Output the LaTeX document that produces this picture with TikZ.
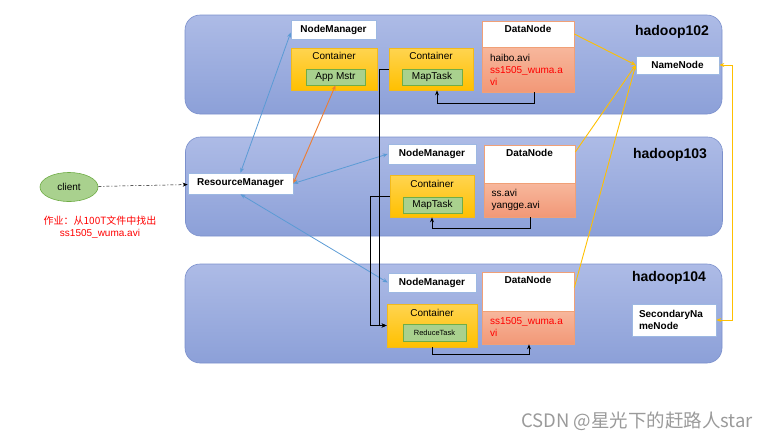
\documentclass[tikz,border=0pt]{standalone}
\usepackage{fontspec}
\setmainfont{Liberation Sans}
\newfontfamily\cjk{Noto Sans CJK SC}
\usetikzlibrary{arrows.meta, positioning, shapes.geometric}
\definecolor{chostA}{HTML}{ADBBE6}
\definecolor{chostB}{HTML}{8CA0D8}
\definecolor{chostline}{HTML}{7B90CC}
\definecolor{cboxline}{HTML}{9DB8E2}
\definecolor{cgoldA}{HTML}{FFD450}
\definecolor{cgoldB}{HTML}{FFC000}
\definecolor{cgoldline}{HTML}{F2BA1C}
\definecolor{cgreen}{HTML}{A9D18E}
\definecolor{cgreenline}{HTML}{70AD47}
\definecolor{csalmonA}{HTML}{F7B79C}
\definecolor{csalmonB}{HTML}{F29877}
\definecolor{csalmonline}{HTML}{F0A077}
\definecolor{cred}{HTML}{FF0000}
\definecolor{cblue}{HTML}{5B9BD5}
\definecolor{corange}{HTML}{ED7D31}
\definecolor{cyellow}{HTML}{FFC000}
\definecolor{cmark}{HTML}{9A9A9A}
\newcommand{\fsz}{\fontsize{10}{12}\selectfont}

\begin{document}
\begin{tikzpicture}[
  x=1pt, y=-1pt, font=\fsz,
  host/.style={draw=chostline, top color=chostA, bottom color=chostB, line width=0.6pt,
               rounded corners=15pt, minimum width=537pt, minimum height=99pt, inner sep=0pt},
  hostlbl/.style={font=\fontsize{14}{16}\selectfont\bfseries, inner sep=0pt},
  wbox/.style={draw=cboxline, fill=white, line width=0.6pt, inner sep=0pt,
               font=\fsz\bfseries},
  cont/.style={draw=cgoldline, top color=cgoldA, bottom color=cgoldB, line width=0.6pt,
               inner sep=0pt},
  contlbl/.style={inner sep=1pt},
  task/.style={draw=cgreenline, fill=cgreen, line width=0.6pt, inner sep=0pt},
  dnhead/.style={draw=csalmonline, fill=white, line width=0.6pt, minimum width=92pt,
                 inner sep=0pt},
  dntitle/.style={font=\fsz\bfseries, inner sep=1pt},
  dnfile/.style={draw=csalmonline, top color=csalmonA, bottom color=csalmonB,
                 line width=0.6pt, minimum width=92pt, inner sep=0pt,
                 text width=76pt, align=left},
  client/.style={ellipse, draw=cgreenline, fill=cgreen, line width=0.6pt,
                 minimum width=58pt, minimum height=29pt, inner sep=0pt},
  job/.style={text=cred, align=center, inner sep=0pt},
  wmark/.style={text=cmark, font=\cjk\fontsize{18.5}{22}\selectfont, inner sep=0pt},
  bflow/.style={{Stealth[length=5pt,width=4pt]}-{Stealth[length=5pt,width=4pt]},
                draw=cblue, line width=0.8pt},
  oflow/.style={{Stealth[length=5pt,width=4pt]}-{Stealth[length=5pt,width=4pt]},
                draw=corange, line width=0.9pt},
  yflow/.style={-{Stealth[length=5pt,width=4pt]}, draw=cyellow, line width=0.9pt},
  yyflow/.style={{Stealth[length=5pt,width=4pt]}-{Stealth[length=5pt,width=4pt]},
                 draw=cyellow, line width=0.9pt},
  kflow/.style={-{Stealth[length=5pt,width=4pt]}, draw=black, line width=1pt},
  cflow/.style={-{Stealth[length=5pt,width=4pt]}, draw=black, line width=0.5pt,
                dash pattern=on 3pt off 2pt on 1pt off 2pt}
]
\useasboundingbox (0,0) rectangle (776,440);

% hosts
\node[host] (h1) at (453.5,64.5)  {};
\node[host] (h2) at (454,186.5)   {};
\node[host] (h3) at (453.5,313.5) {};
\node[hostlbl] (h1l) at (672,32)  {hadoop102};
\node[hostlbl] (h2l) at (670,155) {hadoop103};
\node[hostlbl] (h3l) at (669,278) {hadoop104};

% hadoop102
\node[wbox, minimum width=85pt, minimum height=19pt] (nm1) at (333.5,29.5) {NodeManager};
\node[cont, minimum width=86pt, minimum height=42pt] (ct0) at (334,69) {};
\node[contlbl, below=3pt of ct0.north] (ct0l) {Container};
\node[task, minimum width=59pt, minimum height=16pt] (am) at (335.5,77) {App Mstr};
\node[cont, minimum width=84pt, minimum height=42pt] (ct1) at (431,69) {};
\node[contlbl, below=3pt of ct1.north] (ct1l) {Container};
\node[task, minimum width=60pt, minimum height=16pt] (mt1) at (432,77) {MapTask};
\node[dnhead, minimum height=26pt] (dn1) at (528,34) {};
\node[dntitle, below=3pt of dn1.north] (dt1) {DataNode};
\node[dnfile, minimum height=45pt] (df1) at (528,69.5)
  {haibo.avi\\\color{cred}ss1505\_wuma.a\\\color{cred}vi};
\node[wbox, minimum width=83pt, minimum height=18pt] (nn) at (677.5,65) {NameNode};

% hadoop103
\node[wbox, minimum width=105pt, minimum height=21pt] (rm) at (240.5,183.5) {ResourceManager};
\node[wbox, minimum width=88pt, minimum height=20pt] (nm2) at (432,154) {NodeManager};
\node[cont, minimum width=84pt, minimum height=42pt] (ct2) at (432,196) {};
\node[contlbl, below=4pt of ct2.north] (ct2l) {Container};
\node[task, minimum width=59pt, minimum height=16pt] (mt2) at (432.5,205) {MapTask};
\node[dnhead, minimum height=38pt, minimum width=91pt] (dn2) at (529.5,164) {};
\node[dntitle, below=3pt of dn2.north] (dt2) {DataNode};
\node[dnfile, minimum height=34pt, minimum width=91pt] (df2) at (529.5,200) {ss.avi\\yangge.avi};

% hadoop104
\node[wbox, minimum width=88pt, minimum height=19pt] (nm3) at (432,282.5) {NodeManager};
\node[cont, minimum width=90pt, minimum height=43pt] (ct3) at (432,325.5) {};
\node[contlbl, below=4pt of ct3.north] (ct3l) {Container};
\node[task, minimum width=63pt, minimum height=17pt, font=\fontsize{7.5}{9}\selectfont]
  (rt) at (434.5,332.5) {ReduceTask};
\node[dnhead, minimum height=39pt] (dn3) at (528,291.5) {};
\node[dntitle, below=3pt of dn3.north] (dt3) {DataNode};
\node[dnfile, minimum height=33pt, text=cred] (df3) at (528,327.5) {ss1505\_wuma.a\\vi};
\node[wbox, minimum width=84pt, minimum height=32pt, text width=70pt, align=left]
  (snn) at (674,320) {SecondaryNa\\meNode};

% client side
\node[client] (cl) at (69,187) {client};
\node[job] (jb) at (100,227) {{\cjk 作业：从100T文件中找出}\\ss1505\_wuma.avi};
\node[wmark] (wm) at (637,421) {CSDN @星光下的赶路人star};

% connectors
\draw[cflow] (cl) -- (rm);
\draw[bflow] (rm.north) -- ([yshift=-3pt]nm1.west);
\draw[oflow] (rm.east) -- (am.south);
\draw[bflow] (rm.east) -- (nm2.west);
\draw[bflow] (rm.south) -- (nm3.west);
\draw[kflow] (ct1.west) -- ++(-9,0) |- (ct3.west);
\draw[kflow] (ct2.west) -- ++(-19,0) |- (ct3.west);
\draw[kflow] ([xshift=6pt]df1.south) -- ++(0,11) -| ([xshift=6pt]ct1.south);
\draw[kflow] ([xshift=1pt]df2.south) -- ++(0,11) -| (ct2.south);
\draw[kflow] (ct3.south) -- ++(0,7) -| ([xshift=1pt]df3.south);
\draw[yflow] (dn1.east) -- (nn.west);
\draw[yflow] ([yshift=12pt]dn2.east) -- (nn.west);
\draw[yflow] ([yshift=4pt]dn3.east) -- (nn.west);
\draw[yyflow] (nn.east) -- ++(13,0) |- (snn.east);
\end{tikzpicture}
\end{document}
